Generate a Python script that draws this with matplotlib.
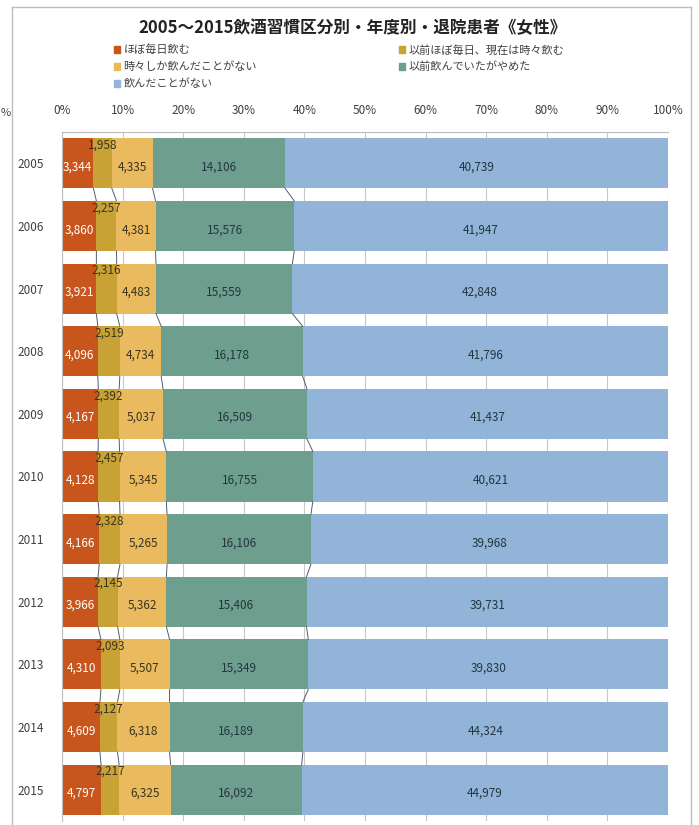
import matplotlib
matplotlib.use("Agg")
import matplotlib.pyplot as plt
from matplotlib.lines import Line2D
from matplotlib.patches import Patch
import numpy as np

plt.rcParams['font.family'] = ['Noto Sans CJK JP', 'DejaVu Sans']

years = ['2005', '2006', '2007', '2008', '2009', '2010', '2011', '2012', '2013', '2014', '2015']
series_names = ['ほぼ毎日飲む', '以前ほぼ毎日、現在は時々飲む', '時々しか飲んだことがない',
                '以前飲んでいたがやめた', '飲んだことがない']
daily = [3344, 3860, 3921, 4096, 4167, 4128, 4166, 3966, 4310, 4609, 4797]
former_daily = [1958, 2257, 2316, 2519, 2392, 2457, 2328, 2145, 2093, 2127, 2217]
sometimes = [4335, 4381, 4483, 4734, 5037, 5345, 5265, 5362, 5507, 6318, 6325]
quit_drinking = [14106, 15576, 15559, 16178, 16509, 16755, 16106, 15406, 15349, 16189, 16092]
never = [40739, 41947, 42848, 41796, 41437, 40621, 39968, 39731, 39830, 44324, 44979]
colors = ['#C8561C', '#C9A236', '#E9BA5E', '#6E9F8E', '#92B4D8']
label_colors = ['#FFFFFF', '#3A3420', '#3A3420', '#23353F', '#23353F']

data = np.array([daily, former_daily, sometimes, quit_drinking, never], dtype=float)
pct = data / data.sum(axis=0) * 100
cum = np.cumsum(pct, axis=0)
left = cum - pct

fig = plt.figure(figsize=(6.99, 8.25), dpi=100)
W, H = 699, 825
ax = fig.add_axes([62 / W, 4 / H, 606 / W, 689 / H])

y = np.arange(len(years))
bh = 0.8
for k in range(len(series_names)):
    ax.barh(y, pct[k], left=left[k], height=bh, color=colors[k], zorder=2,
            label=series_names[k])
    for i in range(len(years)):
        xc = left[k, i] + pct[k, i] / 2
        yc = y[i] + 0.06
        if k == 1:
            yc = y[i] - 0.29
        ax.text(xc, yc, f'{int(data[k, i]):,}', ha='center', va='center',
                fontsize=8.5, color=label_colors[k], zorder=4)

# series lines between bars
for k in range(4):
    for i in range(len(years) - 1):
        ax.plot([cum[k, i], cum[k, i + 1]], [y[i] + bh / 2, y[i + 1] - bh / 2],
                color='#4F5E70', lw=0.7, zorder=3)

ax.set_xlim(0, 100)
ax.set_ylim(len(years) - 0.5, -0.5)
ax.set_xticks(np.arange(0, 101, 10))
ax.set_xticklabels([f'{v}%' for v in range(0, 101, 10)])
ax.xaxis.tick_top()
ax.tick_params(axis='x', length=0, pad=11, labelsize=8.5, labelcolor='#404040')
ax.set_yticks(y)
ax.set_yticklabels(years)
ax.tick_params(axis='y', length=0, pad=13, labelsize=8.5, labelcolor='#404040')
ax.grid(axis='x', color='#C8C8C8', lw=0.8, zorder=0)
ax.set_axisbelow(True)
for s in ['right', 'bottom']:
    ax.spines[s].set_visible(False)
for s in ['left', 'top']:
    ax.spines[s].set_color('#BDBDBD')
    ax.spines[s].set_linewidth(0.8)

fig.text(0.505, 1 - 28 / H, '2005～2015飲酒習慣区分別・年度別・退院患者《女性》',
         ha='center', va='center', fontsize=12, fontweight='bold', color='#222222')

h = [Patch(color=c) for c in colors]
leg_kw = dict(loc='upper left', frameon=False, fontsize=8, handlelength=0.6,
              handleheight=0.6, handletextpad=0.3, labelspacing=0.55, borderpad=0,
              labelcolor='#404040')
fig.legend([h[0], h[2], h[4]], [series_names[0], series_names[2], series_names[4]],
           bbox_to_anchor=(108 / W, 1 - 39 / H), **leg_kw)
fig.legend([h[1], h[3]], [series_names[1], series_names[3]],
           bbox_to_anchor=(393 / W, 1 - 39 / H), **leg_kw)

# surrounding sheet lines
fig.add_artist(Line2D([12 / W, 12 / W], [0, 1 - 7 / H], color='#BDBDBD', lw=1))
fig.add_artist(Line2D([691 / W, 691 / W], [0, 1 - 7 / H], color='#BDBDBD', lw=1))
fig.add_artist(Line2D([12 / W, 691 / W], [1 - 7 / H, 1 - 7 / H], color='#BDBDBD', lw=1))
fig.text(1 / W, 1 - 113 / H, '%', ha='left', va='center', fontsize=8, color='#404040')

fig.savefig('out.png', dpi=100)
